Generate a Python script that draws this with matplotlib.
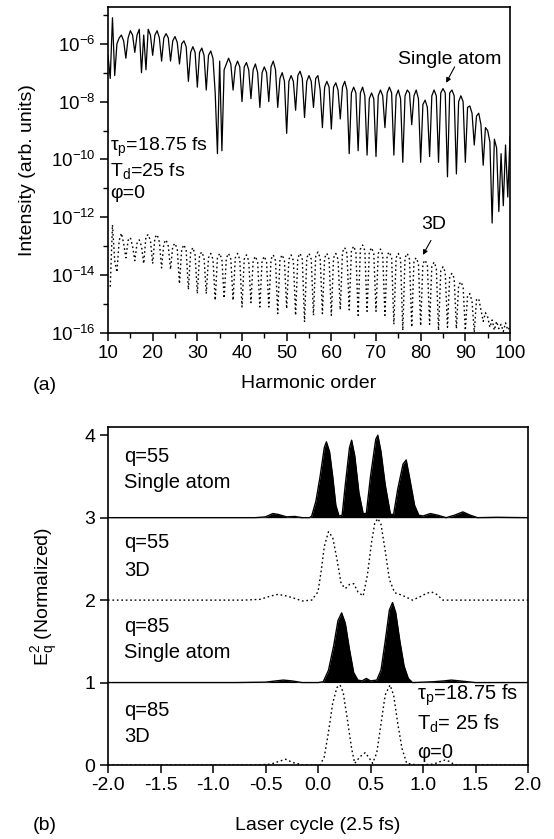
"""
Harmonic spectra (single atom vs 3D) and attosecond pulse trains
Recreated from a two-panel figure
"""

import numpy as np
import matplotlib
matplotlib.use("Agg")
import matplotlib.pyplot as plt
from matplotlib.ticker import FixedLocator, LogFormatterSciNotation, NullFormatter

plt.rcParams['font.family'] = ['Liberation Sans', 'DejaVu Sans']
plt.rcParams['mathtext.fontset'] = 'custom'
plt.rcParams['mathtext.rm'] = 'Liberation Sans'
plt.rcParams['mathtext.it'] = 'Liberation Sans:italic'
plt.rcParams['mathtext.default'] = 'regular'

W, H = 554, 839

# ---- panel (a): log10 intensity, sampled every half harmonic ----
harm_single = np.arange(10.0, 100.01, 0.5)
log_single = [
    -6.4, -7.2, -5.1, -7.1, -6.0, -5.8, -5.7, -5.9, -6.5, -5.8,
    -5.55, -5.7, -6.3, -5.7, -5.5, -7.0, -5.7, -6.9, -5.5, -5.7,
    -6.4, -5.7, -5.55, -5.8, -6.6, -5.8, -5.65, -5.8, -6.6, -5.9,
    -5.75, -5.95, -6.7, -6.0, -5.9, -6.1, -7.3, -6.3, -6.1, -6.3,
    -7.5, -6.3, -6.15, -6.4, -7.6, -6.4, -6.25, -6.5, -7.7, -9.8,
    -6.6, -9.7, -6.9, -6.7, -6.5, -6.7, -7.6, -6.8, -6.6, -6.8,
    -8.0, -6.8, -6.65, -6.9, -7.9, -6.9, -6.7, -7.0, -8.2, -7.0,
    -6.8, -7.0, -8.0, -6.8, -6.6, -6.9, -8.2, -7.2, -7.0, -7.3,
    -9.1, -7.3, -7.1, -7.3, -8.3, -7.1, -6.95, -7.2, -8.55, -7.3,
    -7.1, -7.3, -8.2, -7.2, -7.1, -7.6, -8.9, -7.5, -7.3, -7.5,
    -8.95, -7.5, -7.35, -7.6, -8.6, -7.5, -7.3, -7.6, -9.8, -7.7,
    -7.5, -7.7, -9.7, -7.7, -7.5, -7.8, -9.85, -7.9, -7.7, -7.9,
    -9.9, -7.8, -7.6, -7.8, -8.9, -7.7, -7.5, -7.7, -9.85, -7.8,
    -7.6, -7.9, -10.1, -7.8, -7.6, -7.7, -8.8, -7.8, -7.6, -7.9,
    -10.1, -8.1, -7.95, -8.2, -9.9, -7.8, -7.6, -7.8, -10.1, -7.7,
    -7.55, -7.7, -10.6, -7.7, -7.6, -7.8, -10.5, -8.0, -7.8, -8.0,
    -10.1, -8.2, -8.15, -8.4, -9.5, -8.5, -8.4, -8.8, -10.2, -8.9,
    -9.0, -9.4, -12.2, -9.3, -9.6, -11.8, -9.8, -11.6, -9.5, -11.3,
    -9.2,
]

harm_3d = np.arange(10.5, 100.01, 0.5)
log_3d = [
    -14.4, -12.26, -13.5, -13.9, -12.8, -12.55, -12.9, -13.4, -12.8,
    -12.7, -13.0, -13.5, -12.9, -12.78, -13.0, -13.6, -12.65, -12.6, -12.8,
    -13.6, -12.7, -12.6, -12.85, -13.75, -12.9, -12.78, -13.0, -13.8, -13.0,
    -12.9, -13.1, -14.3, -13.1, -12.95, -13.15, -14.5, -13.2, -13.05, -13.3,
    -14.64, -13.3, -13.2, -13.4, -14.64, -13.4, -13.25, -13.45, -14.87, -13.4,
    -13.25, -13.45, -14.8, -13.4, -13.25, -13.45, -14.87, -13.4, -13.25, -13.45,
    -15.1, -13.45, -13.3, -13.5, -14.95, -13.5, -13.35, -13.55, -15.1, -13.5,
    -13.35, -13.55, -15.1, -13.45, -13.3, -13.5, -15.33, -13.45, -13.3, -13.5,
    -15.16, -13.45, -13.3, -13.5, -15.39, -13.4, -13.25, -13.45, -15.62, -13.4,
    -13.25, -13.45, -15.39, -13.35, -13.2, -13.4, -15.33, -13.4, -13.25, -13.45,
    -15.39, -13.4, -13.25, -13.45, -15.2, -13.2, -13.05, -13.25, -15.2, -13.15,
    -13.0, -13.2, -15.39, -13.1, -12.96, -13.15, -15.25, -13.2, -13.05, -13.25,
    -15.25, -13.25, -13.1, -13.3, -15.39, -13.3, -13.2, -13.4, -15.7, -13.4,
    -13.25, -13.45, -15.91, -13.4, -13.25, -13.45, -15.8, -13.5, -13.4, -13.6,
    -15.75, -13.6, -13.48, -13.65, -15.7, -13.7, -13.55, -13.75, -15.91, -13.85,
    -13.71, -13.9, -15.8, -14.05, -13.94, -14.1, -15.85, -14.35, -14.23, -14.4,
    -15.91, -14.7, -14.64, -14.9, -15.97, -14.85, -14.81, -15.2, -15.6, -15.3,
    -15.45, -15.8, -15.55, -15.9, -15.6, -15.85, -15.7, -15.95, -15.65, -15.9,
    -15.8,
]

harm_ticks = [10, 20, 30, 40, 50, 60, 70, 80, 90, 100]

# ---- panel (b): |E_q|^2 vs laser cycle, offset per trace ----
q55_single_x = [-2.0, -1.0, -0.6, -0.5, -0.43, -0.38, -0.3, -0.22, -0.15, -0.08,
                -0.06, -0.02, 0.02, 0.06, 0.08, 0.11, 0.14, 0.17, 0.2, 0.23,
                0.26, 0.3, 0.32, 0.35, 0.39, 0.43, 0.46, 0.5, 0.55, 0.57,
                0.6, 0.64, 0.69, 0.72, 0.76, 0.81, 0.84, 0.87, 0.92, 0.96,
                1.0, 1.07, 1.14, 1.22, 1.3, 1.38, 1.45, 1.52, 1.7, 2.0]
q55_single_y = [3.0, 3.0, 3.0, 3.01, 3.05, 3.04, 3.01, 3.015, 3.0, 3.0,
                3.02, 3.2, 3.5, 3.85, 3.92, 3.8, 3.5, 3.15, 3.02, 3.03,
                3.4, 3.85, 3.94, 3.75, 3.3, 3.05, 3.05, 3.5, 3.95, 4.0,
                3.8, 3.4, 3.04, 3.04, 3.35, 3.65, 3.7, 3.5, 3.15, 3.03,
                3.02, 3.05, 3.03, 3.0, 3.03, 3.07, 3.03, 3.0, 3.005, 3.0]

q55_3d_x = [-2.0, -0.7, -0.55, -0.45, -0.38, -0.3, -0.22, -0.15, -0.06, 0.0,
            0.03, 0.06, 0.1, 0.14, 0.18, 0.22, 0.26, 0.3, 0.34, 0.38,
            0.43, 0.47, 0.51, 0.54, 0.57, 0.6, 0.64, 0.68, 0.73, 0.8,
            0.9, 0.97, 1.03, 1.08, 1.13, 1.19, 1.3, 2.0]
q55_3d_y = [2.0, 2.0, 2.01, 2.05, 2.07, 2.05, 2.02, 1.99, 2.0, 2.1,
            2.35, 2.65, 2.83, 2.76, 2.5, 2.2, 2.14, 2.19, 2.2, 2.1,
            2.05, 2.3, 2.7, 2.93, 2.99, 2.92, 2.6, 2.25, 2.09, 2.06,
            2.0, 2.04, 2.08, 2.1, 2.07, 2.0, 2.0, 2.0]

q85_single_x = [-2.0, -0.8, -0.5, -0.4, -0.33, -0.25, -0.15, 0.0, 0.05, 0.1,
                0.15, 0.19, 0.225, 0.26, 0.3, 0.34, 0.38, 0.42, 0.46, 0.5,
                0.56, 0.6, 0.64, 0.68, 0.71, 0.74, 0.78, 0.82, 0.86, 0.9,
                1.1, 1.2, 1.27, 1.35, 1.5, 2.0]
q85_single_y = [1.0, 1.0, 1.005, 1.02, 1.03, 1.02, 1.0, 1.0, 1.01, 1.15,
                1.45, 1.75, 1.845, 1.72, 1.4, 1.12, 1.03, 1.02, 1.05, 1.02,
                1.03, 1.15, 1.5, 1.88, 1.97, 1.85, 1.5, 1.2, 1.05, 1.0,
                1.01, 1.02, 1.03, 1.02, 1.0, 1.0]

q85_3d_x = [-2.0, -0.6, -0.45, -0.38, -0.31, -0.24, -0.14, 0.02, 0.06, 0.1,
            0.14, 0.18, 0.21, 0.24, 0.28, 0.32, 0.35, 0.4, 0.45, 0.49,
            0.52, 0.56, 0.6, 0.64, 0.686, 0.72, 0.76, 0.8, 0.845, 0.95,
            1.1, 1.16, 1.21, 1.26, 1.3, 2.0]
q85_3d_y = [0.0, 0.0, 0.01, 0.04, 0.07, 0.03, 0.0, 0.0, 0.1, 0.4,
            0.75, 0.94, 0.97, 0.88, 0.55, 0.2, 0.02, 0.1, 0.15, 0.08,
            0.02, 0.15, 0.5, 0.85, 0.97, 0.85, 0.5, 0.2, 0.02, 0.0,
            0.01, 0.04, 0.06, 0.04, 0.0, 0.0]

cycle_ticks = [-2.0, -1.5, -1.0, -0.5, 0.0, 0.5, 1.0, 1.5, 2.0]
field_ticks = [0, 1, 2, 3, 4]

DOTTED = (0, (1.2, 2.0))


def px(x, y):
    """pixel position (from top-left) -> figure fraction"""
    return x / W, 1 - y / H


def style_axes(ax, size):
    for sp in ax.spines.values():
        sp.set_linewidth(1.2)
    ax.tick_params(which='major', direction='out', length=6, width=1.1,
                   labelsize=size, pad=3)
    ax.tick_params(which='minor', direction='out', length=3.5, width=1.0)


def plot_spectra(fig):
    """Panel (a): harmonic spectra"""
    ax = fig.add_axes([108 / W, 1 - 333 / H, 402 / W, 326 / H])

    ax.semilogy(harm_single, 10 ** np.array(log_single), color='black', lw=0.9)
    ax.semilogy(harm_3d, 10 ** np.array(log_3d), color='black', lw=1.0,
                linestyle=DOTTED)

    ax.set_xlim(10, 100)
    ax.set_ylim(10 ** -16, 10 ** -4.73)
    ax.set_xticks(harm_ticks)
    ax.set_xticks([15, 25, 35, 45, 55, 65, 75, 85, 95], minor=True)
    ax.yaxis.set_major_locator(FixedLocator([10.0 ** e for e in range(-16, -5, 2)]))
    ax.yaxis.set_minor_locator(FixedLocator([10.0 ** e for e in range(-15, -4, 2)]))
    ax.yaxis.set_major_formatter(LogFormatterSciNotation())
    ax.yaxis.set_minor_formatter(NullFormatter())
    style_axes(ax, 13.5)

    ax.text(86.6, 10 ** -6.55, 'Single atom', fontsize=14, ha='center', va='center')
    ax.annotate('', xy=(85.7, 10 ** -7.35), xytext=(87.6, 10 ** -6.8),
                arrowprops=dict(arrowstyle='-|>', color='black', lw=0.8,
                                mutation_scale=7, shrinkA=0, shrinkB=0))
    ax.text(83.0, 10 ** -12.25, '3D', fontsize=14, ha='center', va='center')
    ax.annotate('', xy=(80.5, 10 ** -13.3), xytext=(82.3, 10 ** -12.8),
                arrowprops=dict(arrowstyle='-|>', color='black', lw=0.8,
                                mutation_scale=7, shrinkA=0, shrinkB=0))

    fig.text(*px(110, 147), 'τ$_p$=18.75 fs', fontsize=14, va='center')
    fig.text(*px(110, 171), 'T$_d$=25 fs', fontsize=14, va='center')
    fig.text(*px(110, 194), 'φ=0', fontsize=14, va='center')

    fig.text(*px(28, 170), 'Intensity (arb. units)', fontsize=14, rotation=90,
             ha='center', va='center')
    fig.text(*px(309, 383), 'Harmonic order', fontsize=14, ha='center', va='center')
    fig.text(*px(45, 386), '(a)', fontsize=14, ha='center', va='center')
    return ax


def plot_pulses(fig):
    """Panel (b): pulse trains for q=55 and q=85"""
    ax = fig.add_axes([108 / W, 1 - 765 / H, 420 / W, 338 / H])

    for xs, ys, base in [(q55_single_x, q55_single_y, 3.0),
                         (q85_single_x, q85_single_y, 1.0)]:
        ax.fill_between(xs, base, ys, color='black', lw=0)
        ax.plot(xs, ys, color='black', lw=1.0)
    for xs, ys in [(q55_3d_x, q55_3d_y), (q85_3d_x, q85_3d_y)]:
        ax.plot(xs, ys, color='black', lw=1.0, linestyle=DOTTED)

    ax.set_xlim(-2.0, 2.0)
    ax.set_ylim(0, 4.1)
    ax.set_xticks(cycle_ticks)
    ax.set_xticklabels([f'{t:.1f}' for t in cycle_ticks])
    ax.set_yticks(field_ticks)
    style_axes(ax, 14)

    labels = [(457, 'q=55'), (483, 'Single atom'), (543, 'q=55'), (570, '3D'),
              (627, 'q=85'), (653, 'Single atom'), (710, 'q=85'), (737, '3D')]
    for y, s in labels:
        fig.text(*px(124, y), s, fontsize=14.5, va='center')

    fig.text(*px(417, 695), 'τ$_p$=18.75 fs', fontsize=14.5, va='center')
    fig.text(*px(417, 724), 'T$_d$= 25 fs', fontsize=14.5, va='center')
    fig.text(*px(417, 752), 'φ=0', fontsize=14.5, va='center')

    fig.text(*px(45, 596), 'E$_q^2$ (Normalized)', fontsize=14, rotation=90,
             ha='center', va='center')
    fig.text(*px(318, 826), 'Laser cycle (2.5 fs)', fontsize=14, ha='center', va='center')
    fig.text(*px(45, 826), '(b)', fontsize=14, ha='center', va='center')
    return ax


def main():
    assert len(log_single) == len(harm_single)
    assert len(log_3d) == len(harm_3d)
    fig = plt.figure(figsize=(W / 100, H / 100), dpi=100)
    plot_spectra(fig)
    plot_pulses(fig)
    fig.savefig('out.png', dpi=100)
    return 0


if __name__ == '__main__':
    import sys
    sys.exit(main())
